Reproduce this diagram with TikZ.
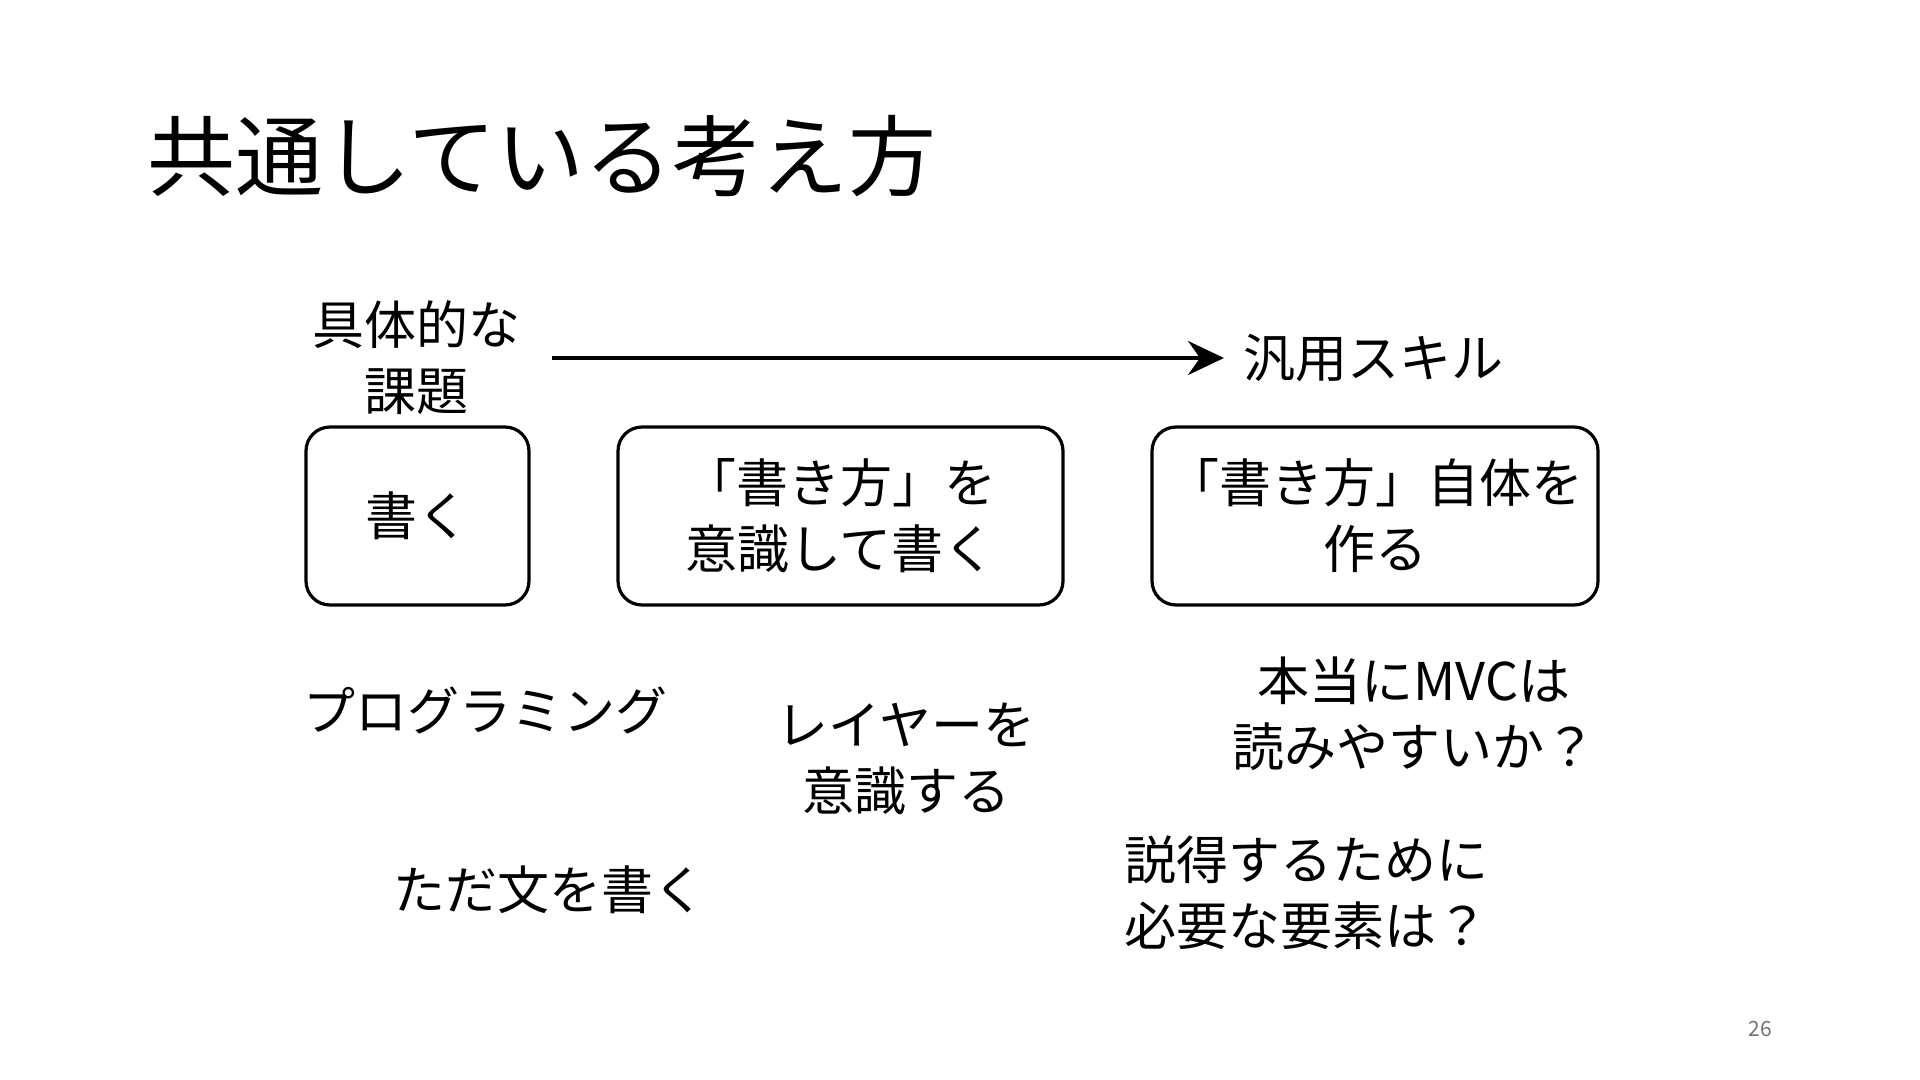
\documentclass[tikz,border=0pt]{standalone}
\usepackage{fontspec}
\setmainfont{Noto Sans CJK JP}
\usetikzlibrary{arrows.meta}

\tikzset{
  txt/.style={align=center, font=\fontsize{26}{33}\selectfont},
  stepbox/.style={txt, draw, line width=1.6pt, rounded corners=12pt,
    minimum height=89pt},
  flow/.style={line width=1.6pt, -{Stealth[length=18pt, width=17pt, inset=6pt]}}
}

\begin{document}
\begin{tikzpicture}[x=0.5pt, y=-0.5pt]
  %%%%% START %%%%%
  \fill[white] (0,0) rectangle (1920,1080);
  \useasboundingbox (0,0) rectangle (1920,1080);

  \node[anchor=west, font=\fontsize{44}{50}\selectfont] (title) at (140,156) {共通している考え方};

  \node[txt] (concrete) at (416,358) {具体的な\\課題};
  \node[txt, anchor=west] (skill) at (1236,358) {汎用スキル};
  \draw[flow, shorten <=12.5pt, shorten >=6pt] (concrete.east) -- (skill.west);

  \node[stepbox, minimum width=111.5pt] (write) at (417.5,516) {書く};
  \node[stepbox, minimum width=222.5pt] (conscious) at (840.5,516) {「書き方」を\\意識して書く};
  \node[stepbox, minimum width=223pt] (make) at (1375,516) {「書き方」自体を\\作る};

  \node[txt] (prog) at (485,710) {プログラミング};
  \node[txt] (layer) at (906,759) {レイヤーを\\意識する};
  \node[txt] (mvc) at (1414,714) {本当にMVCは\\読みやすいか？};
  \node[txt] (plain) at (549,890) {ただ文を書く};
  \node[txt] (persuade) at (1306,893) {説得するために\\必要な要素は？};

  \node[text=black!55, font=\fontsize{10.5}{12}\selectfont] (page) at (1760,1029) {26};
  %%%%% END %%%%%
\end{tikzpicture}
\end{document}
